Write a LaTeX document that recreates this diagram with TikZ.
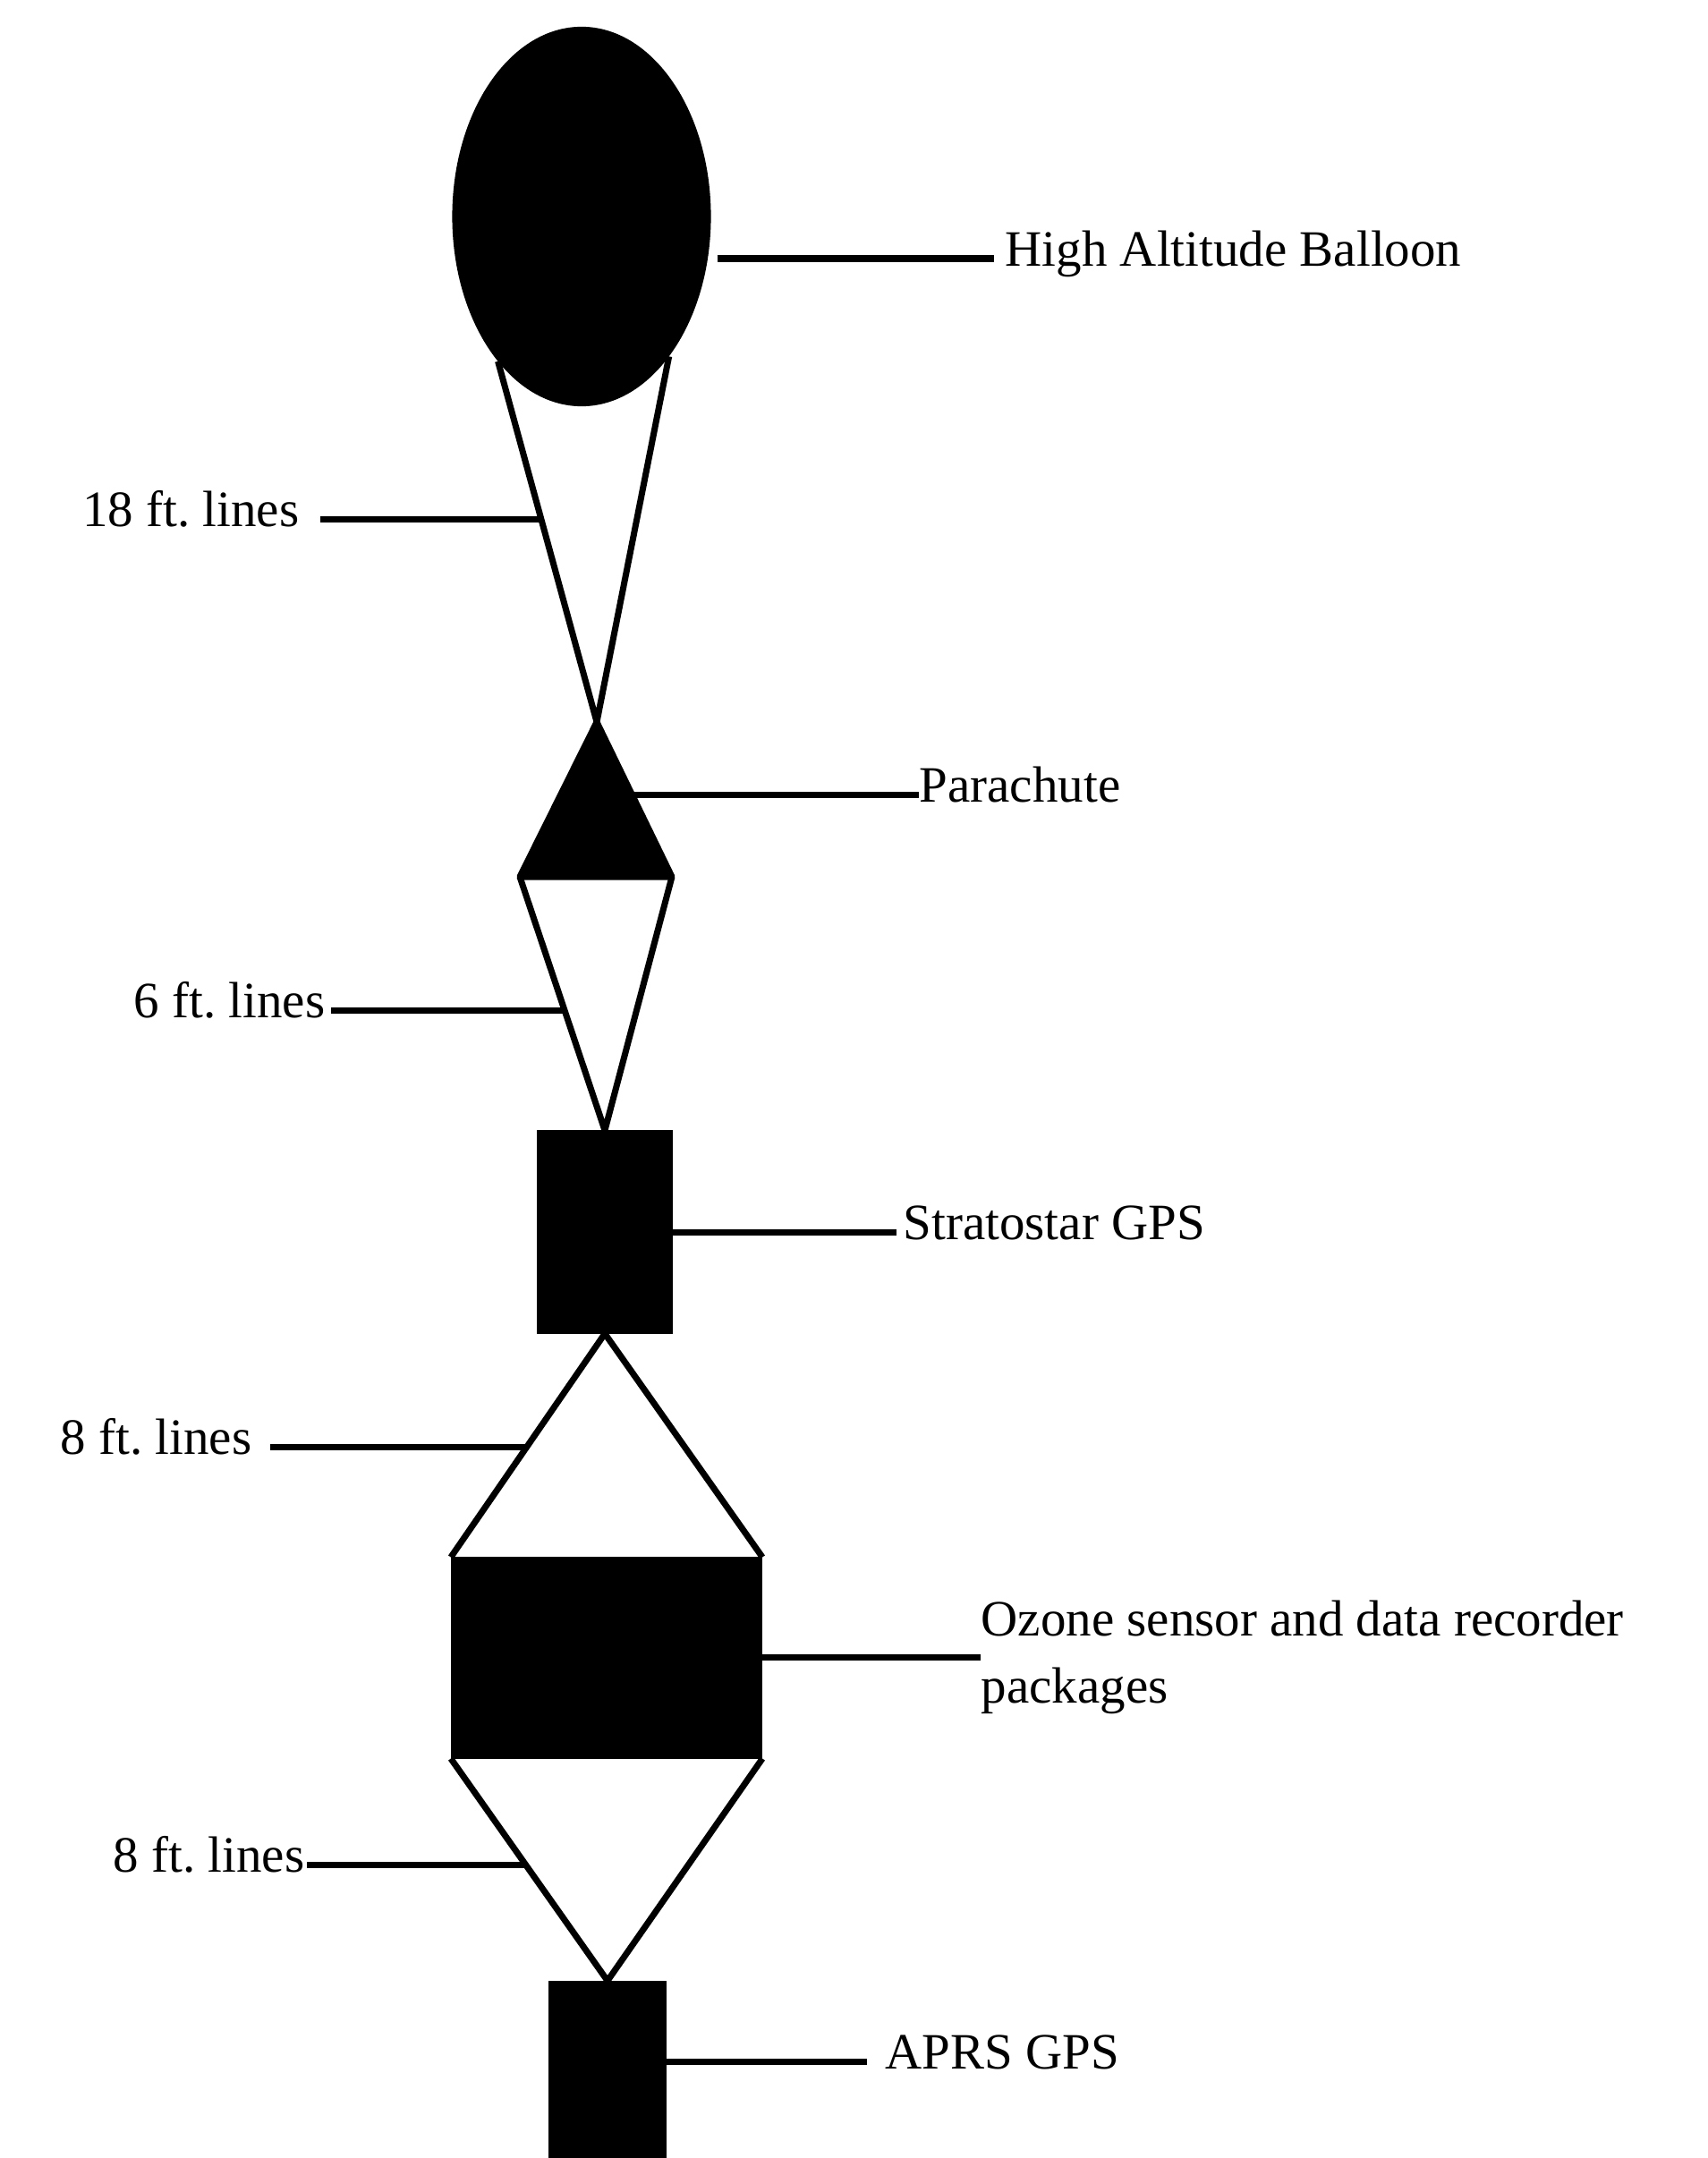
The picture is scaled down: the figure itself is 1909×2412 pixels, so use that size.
\documentclass[tikz,border=0pt]{standalone}
\usepackage{fontspec}
\setmainfont{Liberation Serif}
\usetikzlibrary{shapes.geometric,calc}
\begin{document}
\begin{tikzpicture}[x=0.01cm,y=-0.01cm,
    blob/.style={fill=black,inner sep=0pt,outer sep=0pt},
    rope/.style={line width=0.07cm,line join=round},
    lead/.style={line width=0.07cm},
    lbl/.style={font=\fontsize{16.2}{21.3}\selectfont\frenchspacing,inner sep=0pt}]
  \useasboundingbox (0,0) rectangle (1909,2412);
  \node[blob,ellipse,minimum width=2.89cm,minimum height=4.24cm] (balloon) at (650,242) {};
  \coordinate (chute) at (667,807);
  \coordinate (chutel) at (581,980);
  \coordinate (chuter) at (751,980);
  \coordinate (chutemid) at ($(chute)!0.5!(chuter)$);
  \node[blob,minimum width=1.52cm,minimum height=2.27cm] (strato) at (676,1377) {};
  \node[blob,minimum width=3.48cm,minimum height=2.25cm] (ozone) at (678,1853) {};
  \node[blob,minimum width=1.32cm,minimum height=1.98cm] (aprs) at (679,2313) {};
  \filldraw[rope] (chute) -- (chutel) -- (chuter) -- cycle;
  \draw[rope] (balloon.-120) -- (chute) -- (balloon.-58);
  \draw[rope] (chutel) -- (strato.north) -- (chuter);
  \draw[rope] (ozone.north west) -- (strato.south) -- (ozone.north east);
  \draw[rope] (ozone.south west) -- (aprs.north) -- (ozone.south east);
  \node[lbl,anchor=mid west] (balloonlbl) at (1123,289) {High Altitude Balloon};
  \node[lbl,anchor=mid west] (chutelbl) at (1027,888) {Parachute};
  \node[lbl,anchor=mid west] (stratolbl) at (1009,1377) {Stratostar GPS};
  \node[lbl,anchor=west,align=left] (ozonelbl) at (1096,1852) {Ozone sensor and data recorder\\packages};
  \node[lbl,anchor=mid west] (aprslbl) at (989,2304) {APRS GPS};
  \node[lbl,anchor=mid east] (lines18) at (335,580) {18 ft. lines};
  \node[lbl,anchor=mid east] (lines6) at (364,1129) {6 ft. lines};
  \node[lbl,anchor=mid east] (lines8a) at (282,1617) {8 ft. lines};
  \node[lbl,anchor=mid east] (lines8b) at (341,2084) {8 ft. lines};
  \draw[lead,shorten <=0.07cm,shorten >=0.12cm] (balloon.east |- balloonlbl.mid west) -- (balloonlbl.mid west);
  \draw[lead] (chutelbl.mid west -| chutemid) -- (chutelbl.mid west);
  \draw[lead,shorten >=0.07cm] (strato.east |- stratolbl.mid west) -- (stratolbl.mid west);
  \draw[lead] (ozone.east |- ozonelbl.west) -- (ozonelbl.west);
  \draw[lead,shorten >=0.2cm] (aprs.east |- aprslbl.mid west) -- (aprslbl.mid west);
  \foreach \lbl/\from/\to/\t/\gap in {lines18/balloon.-120/chute/0.44/0.23cm,
      lines6/chutel/strato.north/0.52/0.06cm,
      lines8a/strato.south/ozone.north west/0.5/0.2cm,
      lines8b/ozone.south west/aprs.north/0.48/0.02cm}{
    \coordinate (hit) at ($(\from)!\t!(\to)$);
    \draw[lead,shorten <=\gap] (\lbl.mid east) -- (\lbl.mid east -| hit);
  }
\end{tikzpicture}
\end{document}
